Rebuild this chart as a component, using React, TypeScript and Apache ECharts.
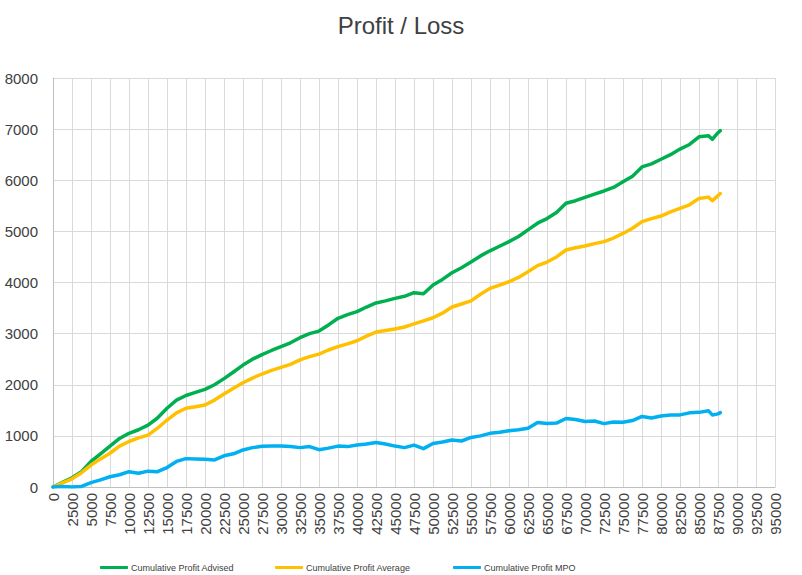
import React, { useEffect, useRef } from "react";
import * as echarts from "echarts";

// Sample positions (x axis) shared by all three cumulative series
const xValues = [
  0, 1250, 2500, 3750, 5000, 6250, 7500, 8750, 10000, 11250, 12500, 13750, 15000, 16250,
  17500, 18750, 20000, 21250, 22500, 23750, 25000, 26250, 27500, 28750, 30000, 31250,
  32500, 33750, 35000, 36250, 37500, 38750, 40000, 41250, 42500, 43750, 45000, 46250,
  47500, 48750, 50000, 51250, 52500, 53750, 55000, 56250, 57500, 58750, 60000, 61250,
  62500, 63750, 65000, 66250, 67500, 68750, 70000, 71250, 72500, 73750, 75000, 76250,
  77500, 78750, 80000, 81250, 82500, 83750, 85000, 86250, 86750, 87500, 87800,
];

const advised = [
  0, 90, 180, 300, 500, 650, 800, 950, 1050, 1120, 1210, 1350, 1540, 1700,
  1790, 1850, 1910, 2000, 2120, 2250, 2385, 2500, 2590, 2670, 2745, 2820,
  2920, 3000, 3050, 3170, 3300, 3370, 3430, 3520, 3600, 3640, 3690, 3730,
  3800, 3780, 3950, 4060, 4190, 4290, 4400, 4520, 4620, 4710, 4800, 4900,
  5030, 5160, 5250, 5370, 5550, 5600, 5665, 5730, 5790, 5860, 5970, 6080,
  6260, 6320, 6410, 6500, 6610, 6700, 6850, 6870, 6800, 6930, 6970,
];

const average = [
  0, 80, 160, 280, 430, 550, 660, 800, 890, 960, 1015, 1150, 1310, 1450,
  1540, 1570, 1605, 1700, 1820, 1930, 2040, 2130, 2210, 2280, 2340, 2400,
  2485, 2550, 2600, 2680, 2745, 2800, 2860, 2950, 3030, 3060, 3090, 3130,
  3190, 3250, 3310, 3400, 3520, 3580, 3640, 3770, 3885, 3950, 4015, 4100,
  4210, 4330, 4400, 4500, 4635, 4680, 4715, 4760, 4800, 4870, 4960, 5060,
  5190, 5250, 5300, 5380, 5450, 5520, 5645, 5670, 5600, 5700, 5740,
];

const mpo = [
  0, 10, 0, 10, 85, 140, 200, 240, 300, 270, 310, 300, 380, 500,
  555, 550, 545, 530, 610, 650, 725, 770, 795, 800, 800, 790,
  770, 790, 730, 760, 800, 790, 820, 840, 870, 840, 800, 770,
  820, 750, 850, 880, 920, 900, 970, 1000, 1050, 1070, 1100, 1120,
  1150, 1260, 1240, 1250, 1340, 1320, 1280, 1290, 1240, 1270, 1265, 1300,
  1380, 1350, 1390, 1410, 1410, 1450, 1460, 1490, 1410, 1430, 1455,
];

const seriesNames = [
  "Cumulative Profit Advised",
  "Cumulative Profit Average",
  "Cumulative Profit MPO",
];
const seriesColors = ["#00B050", "#FFC000", "#00B0F0"];
const legendLefts = [95, 270, 448];

const pairs = (ys: number[]) => xValues.map((x, i) => [x, ys[i]]);

export default function App() {
  const ref = useRef<HTMLDivElement>(null);

  useEffect(() => {
    if (!ref.current) return;
    const chart = echarts.init(ref.current, undefined, { renderer: "svg" });
    const textColor = "#404040";
    const font = "'Liberation Sans', Arial, sans-serif";
    const data = [advised, average, mpo];
    const plain = (v: number) => String(v);

    chart.setOption({
      animation: false,
      backgroundColor: "#ffffff",
      title: {
        text: "Profit / Loss",
        left: "center",
        top: 8,
        textStyle: { fontSize: 24, fontWeight: "normal", color: textColor, fontFamily: font },
      },
      legend: seriesNames.map((name, i) => ({
        data: [name],
        left: legendLefts[i],
        top: 558,
        icon: "roundRect",
        itemWidth: 28,
        itemHeight: 3,
        itemGap: 0,
        textStyle: {
          fontSize: 9,
          color: textColor,
          fontFamily: font,
          padding: [0, 0, 0, -2],
        },
      })),
      grid: { left: 53, right: 27, top: 78, bottom: 88, containLabel: false },
      xAxis: {
        type: "value",
        min: 0,
        max: 95000,
        interval: 2500,
        axisLine: { show: true, lineStyle: { color: "#bfbfbf", width: 1 } },
        axisTick: { show: false },
        splitLine: { show: true, lineStyle: { color: "#d9d9d9", width: 1 } },
        axisLabel: {
          rotate: 90,
          margin: 6,
          fontSize: 15,
          color: textColor,
          fontFamily: font,
          showMinLabel: true,
          showMaxLabel: true,
          formatter: plain,
        },
      },
      yAxis: {
        type: "value",
        min: 0,
        max: 8000,
        interval: 1000,
        axisLine: { show: true, lineStyle: { color: "#bfbfbf", width: 1 } },
        axisTick: { show: false },
        splitLine: { show: true, lineStyle: { color: "#d9d9d9", width: 1 } },
        axisLabel: { margin: 15, fontSize: 15, color: textColor, fontFamily: font, formatter: plain },
      },
      series: seriesNames.map((name, i) => ({
        name,
        type: "line",
        data: pairs(data[i]),
        showSymbol: false,
        symbol: "none",
        color: seriesColors[i],
        lineStyle: { width: 3.5, color: seriesColors[i], cap: "round", join: "round" },
      })),
    });

    return () => chart.dispose();
  }, []);

  return <div ref={ref} style={{ width: 802, height: 575, position: "absolute", left: 0, top: 0 }} />;
}
